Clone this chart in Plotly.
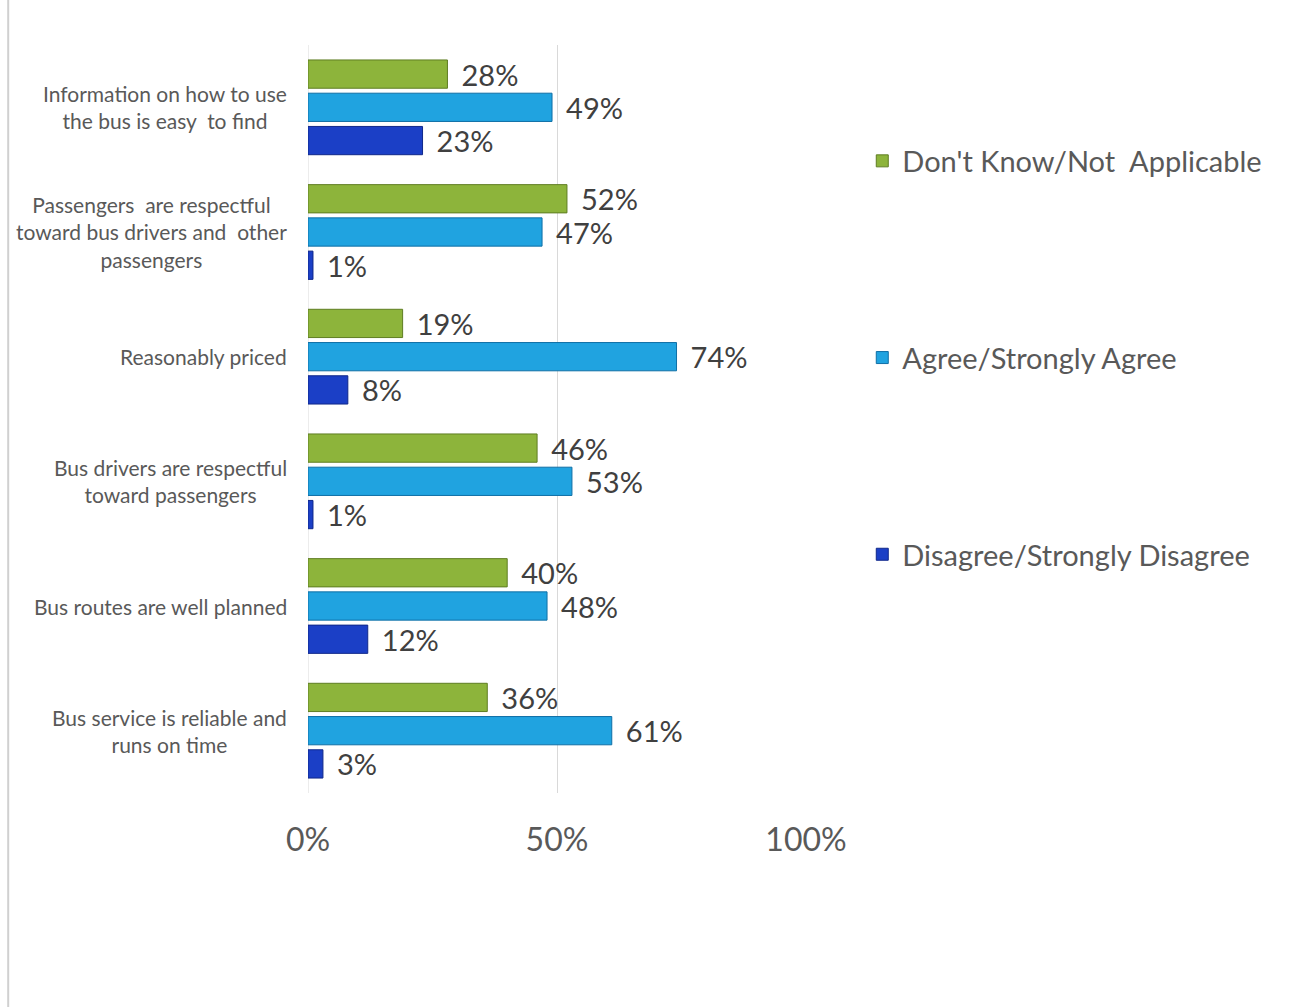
import plotly.graph_objects as go

# Survey statements, listed top to bottom as they appear on the y axis
statements = [
    "Information on how to use<br>the bus is easy  to find",
    "Passengers  are respectful<br>toward bus drivers and  other<br>passengers",
    "Reasonably priced",
    "Bus drivers are respectful<br>toward passengers",
    "Bus routes are well planned",
    "Bus service is reliable and<br>runs on time",
]

# Percent of respondents per answer group (same order as statements)
dont_know = [28, 52, 19, 46, 40, 36]
agree = [49, 47, 74, 53, 48, 61]
disagree = [23, 1, 8, 1, 12, 3]

series = [
    ("Don't Know/Not  Applicable", dont_know, "#8db43b", "#5f7d22"),
    ("Agree/Strongly Agree", agree, "#20a3e0", "#0f6fa6"),
    ("Disagree/Strongly Disagree", disagree, "#1b3fc6", "#10288a"),
]

x_ticks = [0, 50, 100]
x_tick_labels = ["0%", "50%", "100%"]

label_color = "#595959"
value_color = "#404040"
font_family = "Lato, 'Open Sans', sans-serif"

fig = go.Figure()
for i, (name, values, fill, edge) in enumerate(series):
    fig.add_trace(
        go.Bar(
            name=name,
            y=statements,
            x=values,
            orientation="h",
            legendgroup=f"g{i}",
            marker=dict(color=fill, line=dict(color=edge, width=1)),
            text=[f"\u00a0\u2009{v}%" for v in values],
            textposition="outside",
            constraintext="none",
            cliponaxis=False,
            textfont=dict(size=29, color=value_color, family=font_family),
            hoverinfo="skip",
        )
    )

# Centered, multi-line statement labels to the left of the axis
for s in statements:
    fig.add_annotation(
        x=0,
        y=s,
        xref="x",
        yref="y",
        text=s,
        showarrow=False,
        xanchor="right",
        yanchor="middle",
        align="center",
        xshift=-19,
        font=dict(size=21, color=label_color, family=font_family),
    )

# Thin frame line along the left edge of the page
fig.add_shape(
    type="line",
    xref="paper",
    yref="paper",
    x0=-0.602,
    x1=-0.602,
    y0=-0.29,
    y1=1.06,
    line=dict(color="#d0d0d0", width=2),
)

fig.update_layout(
    width=1310,
    height=1007,
    margin=dict(l=308, r=504, t=45, b=214),
    paper_bgcolor="white",
    plot_bgcolor="white",
    barmode="group",
    bargap=0.2,
    bargroupgap=0.15,
    font=dict(family=font_family, color=label_color),
    legend=dict(
        x=1.113,
        y=0.879,
        xanchor="left",
        yanchor="top",
        traceorder="grouped",
        tracegroupgap=156,
        font=dict(size=29, color=label_color, family=font_family),
        itemwidth=30,
        bgcolor="rgba(0,0,0,0)",
    ),
    xaxis=dict(
        range=[0, 100],
        tickvals=x_ticks,
        ticktext=x_tick_labels,
        showgrid=True,
        gridcolor="#d9d9d9",
        gridwidth=1,
        zeroline=False,
        showline=False,
        ticks="outside",
        ticklen=19,
        tickcolor="rgba(0,0,0,0)",
        tickfont=dict(size=32, color=label_color, family=font_family),
        fixedrange=True,
    ),
    yaxis=dict(
        categoryorder="array",
        categoryarray=statements,
        autorange="reversed",
        showticklabels=False,
        showgrid=False,
        zeroline=False,
        showline=False,
        fixedrange=True,
    ),
)

# Light vertical rule at 0%
fig.add_vline(x=0, line=dict(color="#d9d9d9", width=1), layer="below")

fig.write_html("out.html")
